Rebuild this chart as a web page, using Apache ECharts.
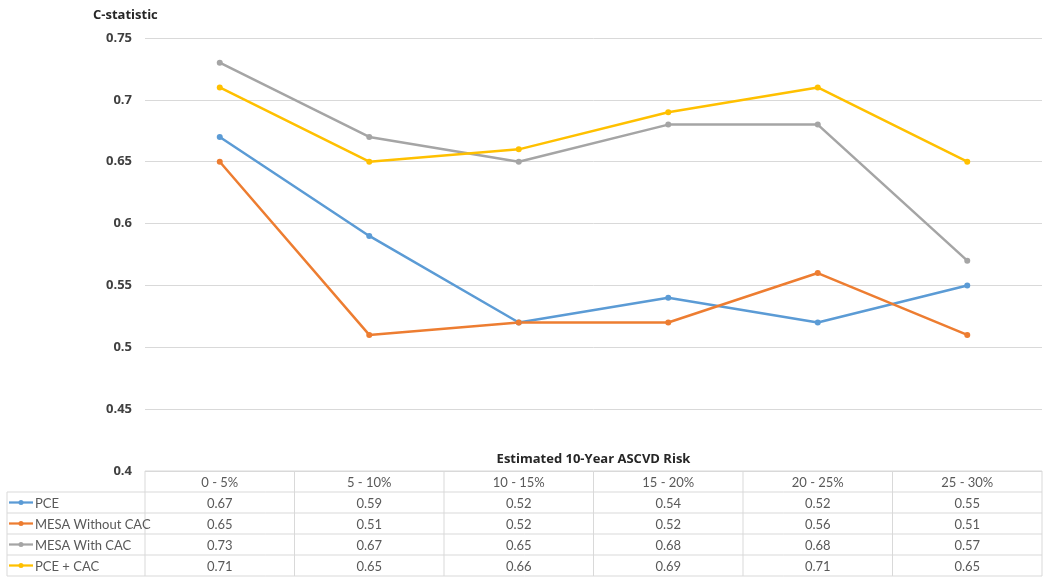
<!DOCTYPE html>
<html><head><meta charset="utf-8">
<script src="https://cdn.jsdelivr.net/npm/echarts@6/dist/echarts.min.js"></script>
<style>html,body{margin:0;padding:0;background:#fff}#c{width:1050px;height:581px}</style>
</head><body><div id="c"></div>
<script>
const categories = ['0 - 5%', '5 - 10%', '10 - 15%', '15 - 20%', '20 - 25%', '25 - 30%'];
const pce = [0.67, 0.59, 0.52, 0.54, 0.52, 0.55];
const mesaWithout = [0.65, 0.51, 0.52, 0.52, 0.56, 0.51];
const mesaWith = [0.73, 0.67, 0.65, 0.68, 0.68, 0.57];
const pceCac = [0.71, 0.65, 0.66, 0.69, 0.71, 0.65];
const seriesNames = ['PCE', 'MESA Without CAC', 'MESA With CAC', 'PCE + CAC'];
const seriesColors = ['#5B9BD5', '#ED7D31', '#A5A5A5', '#FFC000'];
const yTicks = [0.4, 0.45, 0.5, 0.55, 0.6, 0.65, 0.7, 0.75];
const seriesData = [pce, mesaWithout, mesaWith, pceCac];

const chart = echarts.init(document.getElementById('c'));
const FONT = 'Lato';
const option = {
  animation: false,
  backgroundColor: '#fff',
  title: {text: 'C-statistic', left: 88, top: 4, textStyle: {fontFamily: 'Open Sans', fontSize: 13, fontWeight: 'bold', color: '#262626'}},
  grid: {left: 145, right: 8, top: 38, bottom: 110},
  xAxis: {type: 'category', data: categories, boundaryGap: true,
    axisLine: {show: false}, axisTick: {show: false}, axisLabel: {show: false}},
  yAxis: {type: 'value', min: 0.4, max: 0.75, interval: 0.05,
    axisLine: {show: false}, axisTick: {show: false},
    axisLabel: {margin: 13, fontFamily: 'Open Sans', fontSize: 13, fontWeight: 'bold', color: '#404040',
      formatter: v => { const t = yTicks.find(x => Math.abs(x - v) < 1e-6); return t === undefined ? '' : String(t); }},
    splitLine: {lineStyle: {color: '#d9d9d9', width: 1}}},
  series: seriesData.map((d, i) => ({
    name: seriesNames[i], type: 'line', data: d, symbol: 'circle', symbolSize: 6,
    lineStyle: {width: 2.5, color: seriesColors[i]}, itemStyle: {color: seriesColors[i]}
  }))
};
chart.setOption(option);

// data table under the plot
const c0 = chart.convertToPixel({xAxisIndex: 0}, 0);
const c1 = chart.convertToPixel({xAxisIndex: 0}, 1);
const cw = c1 - c0;
const x0 = c0 - cw / 2;
const xEnd = x0 + cw * categories.length;
const yTop = chart.convertToPixel({yAxisIndex: 0}, 0.4);
const rh = 21;
const leftX = 7;
const lineC = '#d9d9d9';
const g = [];
const hl = (xa, xb, y) => g.push({type: 'line', shape: {x1: xa, y1: y, x2: xb, y2: y}, style: {stroke: lineC, lineWidth: 1}, silent: true});
const vl = (x, ya, yb) => g.push({type: 'line', shape: {x1: x, y1: ya, x2: x, y2: yb}, style: {stroke: lineC, lineWidth: 1}, silent: true});
hl(x0, xEnd, yTop);
for (let r = 1; r <= seriesNames.length + 1; r++) hl(leftX, xEnd, yTop + rh * r);
vl(leftX, yTop + rh, yTop + rh * (seriesNames.length + 1));
for (let k = 0; k <= categories.length; k++) vl(x0 + cw * k, yTop, yTop + rh * (seriesNames.length + 1));
const txt = (x, y, s, align) => g.push({type: 'text', x: x, y: y, silent: true,
  style: {text: s, fontFamily: FONT, fontSize: 13, fill: '#595959', align: align || 'center', verticalAlign: 'middle'}});
categories.forEach((c, k) => txt(x0 + cw * (k + 0.5), yTop + rh / 2 + 1, c));
seriesNames.forEach((n, r) => {
  const yc = yTop + rh * (r + 1) + rh / 2 + 1;
  g.push({type: 'line', shape: {x1: 9, y1: yc - 1, x2: 33, y2: yc - 1}, style: {stroke: seriesColors[r], lineWidth: 2.25}, silent: true});
  g.push({type: 'circle', shape: {cx: 21, cy: yc - 1, r: 2.5}, style: {fill: seriesColors[r]}, silent: true});
  txt(35, yc, n, 'left');
  seriesData[r].forEach((v, k) => txt(x0 + cw * (k + 0.5), yc, v.toFixed(2)));
});
g.push({type: 'text', x: (x0 + xEnd) / 2, y: yTop - 12, silent: true,
  style: {text: 'Estimated 10-Year ASCVD Risk', fontFamily: 'Open Sans', fontSize: 13, fontWeight: 'bold', fill: '#262626', align: 'center', verticalAlign: 'middle'}});
chart.setOption({graphic: g});
</script></body></html>
